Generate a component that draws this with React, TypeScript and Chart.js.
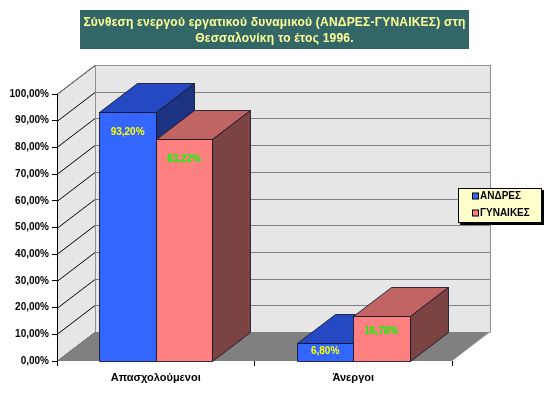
import React, { useEffect, useRef } from "react";
import { Chart, registerables } from "chart.js";

Chart.register(...registerables);

// ---- data ----
const categories = ["Απασχολούμενοι", "Άνεργοι"];
const seriesNames = ["ΑΝΔΡΕΣ", "ΓΥΝΑΙΚΕΣ"];
const menValues = [93.2, 6.8];
const womenValues = [83.22, 16.78];
const titleLines = [
  "Σύνθεση ενεργού εργατικού δυναμικού (ΑΝΔΡΕΣ-ΓΥΝΑΙΚΕΣ) στη",
  "Θεσσαλονίκη το έτος 1996.",
];

// ---- styling ----
const FONT = '"Liberation Sans", Arial, sans-serif';
const DX = 38;
const DY = -29;
const faces = [
  { front: "#3366FF", top: "#2449C2", side: "#1B3380", label: "#FFFF00" },
  { front: "#FF8080", top: "#C06464", side: "#7C4343", label: "#00FF00" },
];

const fmt = (v: number) => v.toFixed(2).replace(".", ",") + "%";

const wallsPlugin = {
  id: "walls3d",
  beforeDraw(chart: any) {
    const { ctx, chartArea } = chart;
    const { left, right, top, bottom } = chartArea;
    const ys = chart.scales.y;
    ctx.save();
    // back wall
    ctx.fillStyle = "#E6E6E6";
    ctx.fillRect(left + DX, top + DY, right - left, bottom - top);
    // left wall
    ctx.beginPath();
    ctx.moveTo(left, top);
    ctx.lineTo(left + DX, top + DY);
    ctx.lineTo(left + DX, bottom + DY);
    ctx.lineTo(left, bottom);
    ctx.closePath();
    ctx.fill();
    // grid lines
    ctx.lineWidth = 1;
    ys.ticks.forEach((t: any) => {
      const py = Math.round(ys.getPixelForValue(t.value)) + 0.5;
      ctx.strokeStyle = "#808080";
      ctx.beginPath();
      ctx.moveTo(left + DX, py + DY);
      ctx.lineTo(right + DX, py + DY);
      ctx.stroke();
      ctx.strokeStyle = "#000000";
      ctx.beginPath();
      ctx.moveTo(left, py);
      ctx.lineTo(left + DX, py + DY);
      ctx.stroke();
    });
    // wall borders
    ctx.strokeStyle = "#909090";
    ctx.beginPath();
    ctx.moveTo(left + 0.5, top + 0.5);
    ctx.lineTo(left + DX + 0.5, top + DY + 0.5);
    ctx.lineTo(right + DX + 0.5, top + DY + 0.5);
    ctx.lineTo(right + DX + 0.5, bottom + DY + 0.5);
    ctx.moveTo(left + DX + 0.5, top + DY + 0.5);
    ctx.lineTo(left + DX + 0.5, bottom + DY + 0.5);
    ctx.stroke();
    // floor
    ctx.fillStyle = "#808080";
    ctx.beginPath();
    ctx.moveTo(left, bottom);
    ctx.lineTo(left + DX, bottom + DY);
    ctx.lineTo(right + DX, bottom + DY);
    ctx.lineTo(right, bottom);
    ctx.closePath();
    ctx.fill();
    ctx.restore();
  },
  beforeDatasetsDraw(chart: any) {
    const { ctx } = chart;
    const items: any[] = [];
    chart.data.datasets.forEach((ds: any, di: number) => {
      const meta = chart.getDatasetMeta(di);
      meta.data.forEach((el: any, i: number) => {
        items.push({ el, di, i, v: ds.data[i] });
      });
    });
    items.sort((a, b) => a.el.x - b.el.x);
    ctx.save();
    ctx.lineWidth = 1;
    ctx.strokeStyle = "rgba(20,20,40,0.85)";
    ctx.lineJoin = "miter";
    items.forEach(({ el, di }) => {
      const p = el.getProps(["x", "y", "base", "width"], true);
      const l = Math.round(p.x - p.width / 2) + 0.5;
      const r = Math.round(p.x + p.width / 2) + 0.5;
      const t = Math.round(p.y) + 0.5;
      const b = Math.round(p.base) + 0.5;
      const f = faces[di];
      // front
      ctx.fillStyle = f.front;
      ctx.beginPath();
      ctx.rect(l, t, r - l, b - t);
      ctx.fill();
      ctx.stroke();
      // top
      ctx.fillStyle = f.top;
      ctx.beginPath();
      ctx.moveTo(l, t);
      ctx.lineTo(r, t);
      ctx.lineTo(r + DX, t + DY);
      ctx.lineTo(l + DX, t + DY);
      ctx.closePath();
      ctx.fill();
      ctx.stroke();
      // side
      ctx.fillStyle = f.side;
      ctx.beginPath();
      ctx.moveTo(r, t);
      ctx.lineTo(r + DX, t + DY);
      ctx.lineTo(r + DX, b + DY);
      ctx.lineTo(r, b);
      ctx.closePath();
      ctx.fill();
      ctx.stroke();
    });
    // labels
    ctx.font = "bold 10px " + FONT;
    ctx.textAlign = "center";
    ctx.textBaseline = "middle";
    items.forEach(({ el, di, v }) => {
      const p = el.getProps(["x", "y", "base"], true);
      const h = p.base - p.y;
      const off = Math.min(20, Math.max(h / 3, Math.min(h / 2, 10)));
      ctx.fillStyle = faces[di].label;
      ctx.fillText(fmt(v), p.x, p.y + off);
    });
    ctx.restore();
    return false;
  },
  afterDraw(chart: any) {
    const { ctx } = chart;
    ctx.save();
    // title box
    ctx.fillStyle = "#336666";
    ctx.fillRect(80, 10, 389, 39);
    ctx.fillStyle = "#FFFF99";
    ctx.font = "bold 12px " + FONT;
    try { (ctx as any).letterSpacing = "0.22px"; } catch (e) {}
    ctx.textAlign = "center";
    ctx.textBaseline = "middle";
    ctx.fillText(titleLines[0], 274.5, 22.5);
    ctx.fillText(titleLines[1], 274.5, 38.5);
    try { (ctx as any).letterSpacing = "0px"; } catch (e) {}
    // legend
    const lx = 458, ly = 188, lw = 84, lh = 35;
    ctx.fillStyle = "#000000";
    ctx.fillRect(lx + 2, ly + 2, lw, lh);
    ctx.fillStyle = "#FFFFCC";
    ctx.fillRect(lx, ly, lw, lh);
    ctx.strokeStyle = "#000000";
    ctx.lineWidth = 1;
    ctx.strokeRect(lx + 0.5, ly + 0.5, lw - 1, lh - 1);
    ctx.font = "bold 10px " + FONT;
    ctx.textAlign = "left";
    seriesNames.forEach((name, i) => {
      const cy = ly + 8.5 + i * 17;
      ctx.fillStyle = faces[i].front;
      ctx.fillRect(lx + 14.5, cy - 3.5, 6, 6);
      ctx.strokeStyle = "#000000";
      ctx.strokeRect(lx + 14.5, cy - 3.5, 6, 6);
      ctx.fillStyle = "#000000";
      ctx.fillText(name, lx + 22, cy);
    });
    ctx.restore();
  },
};

export default function App() {
  const ref = useRef<HTMLCanvasElement | null>(null);
  useEffect(() => {
    if (!ref.current) return;
    const chart = new Chart(ref.current, {
      type: "bar",
      data: {
        labels: categories,
        datasets: [
          { label: seriesNames[0], data: menValues, backgroundColor: faces[0].front },
          { label: seriesNames[1], data: womenValues, backgroundColor: faces[1].front },
        ],
      },
      options: {
        responsive: false,
        animation: false,
        events: [],
        layout: { padding: { top: 94, right: 97, left: 0, bottom: 0 } },
        datasets: { bar: { categoryPercentage: 0.57, barPercentage: 1 } },
        plugins: { legend: { display: false }, title: { display: false }, tooltip: { enabled: false } },
        scales: {
          x: {
            afterFit: (s: any) => { s.height = 35; },
            grid: { display: true, drawOnChartArea: false, drawTicks: true, tickLength: 5, color: "#000000", offset: true },
            border: { display: false },
            ticks: { color: "#000000", padding: 5, font: { family: FONT, size: 11, weight: "bold" } },
          },
          y: {
            min: 0,
            max: 100,
            afterFit: (s: any) => { s.width = 57; },
            grid: { display: true, drawOnChartArea: false, drawTicks: true, tickLength: 5, color: "#000000" },
            border: { display: true, color: "#000000" },
            ticks: {
              stepSize: 10,
              color: "#000000",
              padding: 3,
              font: { family: FONT, size: 10, weight: "bold" },
              callback: (v: any) => fmt(Number(v)),
            },
          },
        },
      },
      plugins: [wallsPlugin],
    });
    return () => chart.destroy();
  }, []);
  return (
    <div style={{ position: "fixed", left: 0, top: 0, width: 549, height: 396, background: "#FFFFFF" }}>
      <canvas ref={ref} width={549} height={396} />
    </div>
  );
}
